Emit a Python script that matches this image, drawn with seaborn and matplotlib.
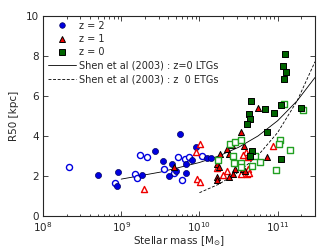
import numpy as np
import pandas as pd
import seaborn as sns
import matplotlib
matplotlib.use("Agg")
import matplotlib.pyplot as plt
from matplotlib.lines import Line2D

# ---- data (log10 stellar mass, R50 in kpc) ----
z2_fill_logm = [8.705, 8.958, 8.945, 9.265, 9.436, 9.532, 9.615, 9.650, 9.696, 9.756,
                9.824, 9.824, 9.901, 9.955, 10.096, 10.147]
z2_fill_r = [2.04, 2.17, 1.47, 2.02, 3.25, 2.75, 1.99, 2.57, 2.22, 4.09,
             2.59, 2.12, 2.77, 3.45, 2.89, 2.90]
z2_open_logm = [8.333, 8.923, 9.171, 9.201, 9.235, 9.324, 9.551, 9.673, 9.731, 9.776,
                9.821, 9.872, 10.035]
z2_open_r = [2.42, 1.62, 2.11, 1.87, 3.02, 2.96, 2.32, 2.14, 2.96, 1.80,
             2.82, 2.95, 2.97]

z1_fill_logm = [9.670, 10.269, 10.346, 10.376, 10.419, 10.519, 10.535, 10.573, 10.750, 10.859,
                10.218, 10.250, 10.449, 10.432, 10.218, 10.225, 10.378, 10.560, 10.577]
z1_fill_r = [2.42, 3.09, 3.36, 3.10, 3.54, 3.77, 4.20, 3.47, 5.36, 2.93,
             2.59, 2.46, 2.34, 2.09, 1.93, 1.78, 1.92, 2.32, 2.24]
z1_open_logm = [9.295, 9.974, 10.013, 9.958, 10.013, 10.227, 10.295, 10.355, 10.535, 10.612,
                10.590, 10.560, 10.622, 10.615, 10.632, 10.936]
z1_open_r = [1.36, 1.82, 1.69, 3.17, 3.61, 2.39, 2.04, 2.24, 2.07, 2.09,
             3.17, 3.04, 2.94, 2.34, 2.12, 3.51]

z0_fill_logm = [10.660, 10.833, 10.949, 11.045, 11.295, 11.090, 11.064, 11.103, 11.081,
                10.630, 10.640, 10.603, 10.865, 10.676, 10.641, 11.038]
z0_fill_r = [5.74, 5.34, 5.12, 5.55, 5.36, 8.09, 7.49, 7.20, 6.82,
             5.06, 4.84, 4.60, 4.18, 3.24, 2.99, 2.85]
z0_open_logm = [10.237, 10.388, 10.455, 10.526, 10.432, 10.440, 10.526, 10.535, 10.712, 10.779,
                10.676, 11.026, 11.019, 11.158, 10.974, 11.083, 11.321]
z0_open_r = [2.81, 3.60, 3.68, 3.80, 2.99, 2.62, 2.62, 2.45, 2.99, 2.70,
             2.50, 3.77, 3.59, 3.30, 2.29, 5.59, 5.29]

# Shen et al. (2003) relations
ltg_logm = [9.0, 9.5, 10.0, 10.25, 10.5, 10.75, 11.0, 11.25, 11.477]
ltg_r = [1.83, 2.18, 2.66, 2.99, 3.42, 3.99, 4.75, 5.75, 6.91]
etg_logm = [10.0, 10.25, 10.5, 10.75, 11.0, 11.25, 11.477]
etg_r = [1.15, 1.58, 2.18, 3.02, 4.16, 5.75, 7.70]

legend_labels = ["z = 2", "z = 1", "z = 0",
                 "Shen et al (2003) : z=0 LTGs",
                 "Shen et al (2003) : z  0 ETGs"]

# ---- style ----
sns.set_style("ticks")
plt.rcParams["font.family"] = ["DejaVu Sans"]
plt.rcParams["font.size"] = 7
plt.rcParams["mathtext.fontset"] = "dejavusans"

fig = plt.figure(figsize=(3.32, 2.49), dpi=100)
ax = fig.add_axes([0.1295, 0.1337, 0.8193, 0.8033])
ax.set_xscale("log")

blue = "#0000e0"
red = "#ee0000"
dgreen = "#006400"
lgreen = "#22a022"
ms = 19

def df(lm, r):
    return pd.DataFrame({"m": np.power(10.0, lm), "r": r})

sns.lineplot(data=df(ltg_logm, ltg_r), x="m", y="r", color="k", lw=0.6, ax=ax,
             sort=True, estimator=None)
sns.lineplot(data=df(etg_logm, etg_r), x="m", y="r", color="k", lw=0.6, ax=ax,
             sort=True, estimator=None, linestyle=(0, (3.5, 2)))

sns.scatterplot(data=df(z2_open_logm, z2_open_r), x="m", y="r", marker="o", s=ms,
                facecolor="white", edgecolor=blue, linewidth=1.0, ax=ax, zorder=3)
sns.scatterplot(data=df(z2_fill_logm, z2_fill_r), x="m", y="r", marker="o", s=ms,
                facecolor=blue, edgecolor="#000060", linewidth=0.5, ax=ax, zorder=3)
sns.scatterplot(data=df(z1_open_logm, z1_open_r), x="m", y="r", marker="^", s=ms,
                facecolor="white", edgecolor=red, linewidth=1.0, ax=ax, zorder=3)
sns.scatterplot(data=df(z1_fill_logm, z1_fill_r), x="m", y="r", marker="^", s=ms,
                facecolor=red, edgecolor="k", linewidth=0.7, ax=ax, zorder=3)
sns.scatterplot(data=df(z0_open_logm, z0_open_r), x="m", y="r", marker="s", s=ms,
                facecolor="white", edgecolor=lgreen, linewidth=1.0, ax=ax, zorder=3)
sns.scatterplot(data=df(z0_fill_logm, z0_fill_r), x="m", y="r", marker="s", s=ms,
                facecolor=dgreen, edgecolor="k", linewidth=0.7, ax=ax, zorder=3)

ax.set_xlim(1e8, 3e11)
ax.set_ylim(0, 10)
ax.set_yticks([0, 2, 4, 6, 8, 10])
ax.set_xlabel(r"Stellar mass [M$_{\odot}$]", fontsize=7.5, labelpad=0)
ax.set_ylabel("R50 [kpc]", fontsize=7.5, labelpad=5)
ax.tick_params(which="both", direction="in", top=True, right=True, labelsize=7.5, width=0.6)
ax.tick_params(axis="x", which="major", pad=3.5)
ax.tick_params(axis="y", which="major", pad=3)
ax.tick_params(which="major", length=3.5)
ax.tick_params(which="minor", length=1.8)
for s in ax.spines.values():
    s.set_linewidth(0.8)

handles = [
    Line2D([], [], marker="o", ls="none", ms=4.0, mfc=blue, mec="#000060", mew=0.5),
    Line2D([], [], marker="^", ls="none", ms=4.0, mfc=red, mec="k", mew=0.7),
    Line2D([], [], marker="s", ls="none", ms=3.8, mfc=dgreen, mec="k", mew=0.7),
    Line2D([], [], color="k", lw=0.6),
    Line2D([], [], color="k", lw=0.6, ls=(0, (3.5, 2))),
]
ax.legend(handles, legend_labels, loc="upper left", frameon=False, fontsize=7,
          handlelength=2.9, handletextpad=0.3, labelspacing=0.35, borderaxespad=0.2,
          borderpad=0.3, numpoints=1)

fig.savefig("out.png", dpi=100)
